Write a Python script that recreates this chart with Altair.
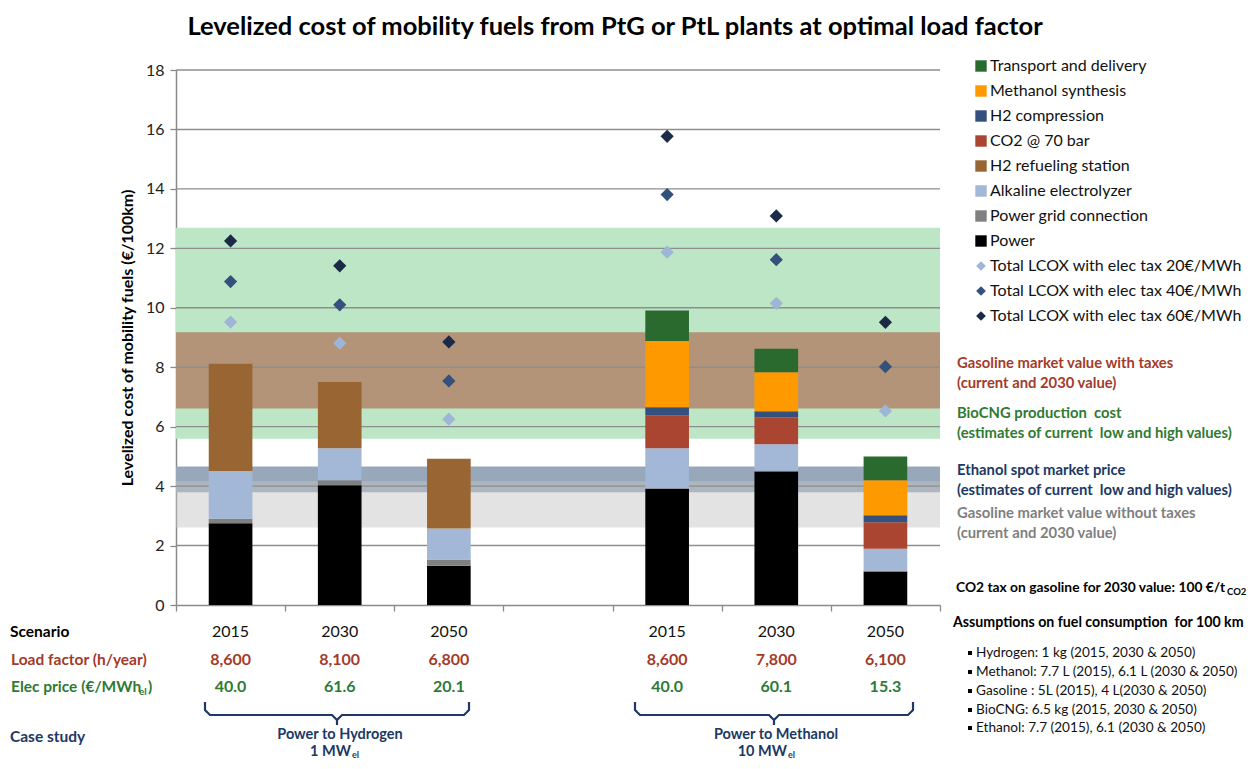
import altair as alt
import pandas as pd

# ---------------- data ----------------
slots = ["H2 2015", "H2 2030", "H2 2050", "gap", "MeOH 2015", "MeOH 2030", "MeOH 2050"]
bar_slots = ["H2 2015", "H2 2030", "H2 2050", "MeOH 2015", "MeOH 2030", "MeOH 2050"]
years = ["2015", "2030", "2050", "2015", "2030", "2050"]
load_factor = ["8,600", "8,100", "6,800", "8,600", "7,800", "6,100"]
elec_price = ["40.0", "61.6", "20.1", "40.0", "60.1", "15.3"]

# stack order bottom -> top
components = ["Power", "Power grid connection", "Alkaline electrolyzer", "H2 refueling station",
              "CO2 @ 70 bar", "H2 compression", "Methanol synthesis", "Transport and delivery"]
comp_colors = ["#000000", "#808080", "#a3b7d6", "#996633", "#aa4531", "#34517d", "#ff9900", "#2a6a2f"]

power = [2.75, 4.03, 1.32, 3.90, 4.49, 1.13]
grid_conn = [0.15, 0.17, 0.21, 0.03, 0.03, 0.03]
electrolyzer = [1.61, 1.07, 1.04, 1.34, 0.89, 0.73]
refueling = [3.61, 2.23, 2.35, 0, 0, 0]
co2 = [0, 0, 0, 1.11, 0.90, 0.89]
h2_compression = [0, 0, 0, 0.27, 0.21, 0.24]
methanol = [0, 0, 0, 2.23, 1.31, 1.18]
transport = [0, 0, 0, 1.03, 0.79, 0.80]
segments = [power, grid_conn, electrolyzer, refueling, co2, h2_compression, methanol, transport]

lcox_series = ["Total LCOX with elec tax 20€/MWh", "Total LCOX with elec tax 40€/MWh",
               "Total LCOX with elec tax 60€/MWh"]
lcox_colors = ["#9fb5d6", "#34517d", "#1b2a47"]
lcox_20 = [9.52, 8.81, 6.25, 11.87, 10.15, 6.53]
lcox_40 = [10.88, 10.10, 7.54, 13.81, 11.62, 8.02]
lcox_60 = [12.25, 11.41, 8.85, 15.77, 13.09, 9.51]

band_names = ["BioCNG production cost", "Gasoline market value with taxes",
              "Ethanol spot market price", "Gasoline market value without taxes"]
band_low = [5.59, 6.61, 3.79, 2.61]
band_high = [12.69, 9.18, 4.66, 4.16]
band_colors = ["#bde6c6", "#b39478", "#98a8bb", "#c4c4c4"]
band_opacity = [1.0, 1.0, 1.0, 0.48]

y_ticks = [0, 2, 4, 6, 8, 10, 12, 14, 16, 18]

# ---------------- layout ----------------
W, H = 764, 535
FONT = "Lato"
RED, GREEN, NAVY, GRAY = "#a33b2a", "#2f7a33", "#203864", "#7f7f7f"
AX = "#8a8a8a"
NB = "\u00a0"

xscale = alt.Scale(domain=slots, paddingInner=0, paddingOuter=0)
yscale = alt.Scale(domain=[0, 18], nice=False)
yaxis = alt.Axis(values=y_ticks, grid=False, title=None, labelFontSize=16,
                 labelFont=FONT, labelColor="#222222", tickColor=AX, tickSize=6,
                 tickWidth=1.3, domainColor=AX, domainWidth=1.5, labelPadding=6)
xaxis = alt.Axis(labels=False, title=None, tickBand="extent", tickSize=6,
                 tickColor=AX, domainColor=AX, domainWidth=1.5, tickWidth=1.3)

# ---------------- tables ----------------
bar_rows = []
for ci, (comp, vals) in enumerate(zip(components, segments)):
    for s, v in zip(bar_slots, vals):
        bar_rows.append({"slot": s, "component": comp, "value": v, "order": ci})
bars_df = pd.DataFrame(bar_rows)

dia_rows = []
for name, vals in zip(lcox_series, [lcox_20, lcox_40, lcox_60]):
    for s, v in zip(bar_slots, vals):
        dia_rows.append({"slot": s, "series": name, "value": v})
dia_df = pd.DataFrame(dia_rows)

bands_df = pd.DataFrame({"name": band_names, "low": band_low, "high": band_high,
                         "color": band_colors, "op": band_opacity})
grid_df = pd.DataFrame({"y": y_ticks[1:]})

# ---------------- layers ----------------
bands = alt.Chart(bands_df).mark_rect().encode(
    x=alt.value(0), x2=alt.value(W),
    y=alt.Y("low:Q", scale=yscale, axis=yaxis), y2="high:Q",
    color=alt.Color("color:N", scale=None),
    opacity=alt.Opacity("op:Q", scale=None),
)

grid = alt.Chart(grid_df).mark_rule(color="#8e8e8e", strokeWidth=1.4).encode(
    x=alt.value(0), x2=alt.value(W),
    y=alt.Y("y:Q", scale=yscale, axis=yaxis),
)

bars = alt.Chart(bars_df).mark_bar(width=alt.RelativeBandSize(0.4)).encode(
    x=alt.X("slot:N", scale=xscale, axis=xaxis),
    y=alt.Y("value:Q", stack="zero", scale=yscale, axis=yaxis),
    color=alt.Color("component:N", scale=alt.Scale(domain=components, range=comp_colors), legend=None),
    order=alt.Order("order:Q"),
)

diamonds = alt.Chart(dia_df).mark_point(shape="diamond", filled=True, size=175, opacity=1).encode(
    x=alt.X("slot:N", scale=xscale, axis=xaxis),
    y=alt.Y("value:Q", scale=yscale, axis=yaxis),
    color=alt.Color("series:N", scale=alt.Scale(domain=lcox_series, range=lcox_colors), legend=None),
)


def texts(rows, **kw):
    df = pd.DataFrame(rows, columns=["px", "py", "t"])
    params = dict(font=FONT, align="left", baseline="middle")
    params.update(kw)
    return alt.Chart(df).mark_text(**params).encode(
        x=alt.X("px:Q", scale=None), y=alt.Y("py:Q", scale=None), text="t:N")


# title and axis title
title = texts([(439, -35, "Levelized cost of mobility fuels from PtG or PtL plants at optimal load factor")],
              fontSize=25.5, fontWeight="bold", align="center", baseline="alphabetic", color="#000000")
ytitle = texts([(-48, 268, "Levelized cost of mobility fuels (€/100km)")],
               fontSize=16, fontWeight="bold", align="center", angle=270, color="#000000")

# legend
leg_items = list(reversed(components))
leg_sq_df = pd.DataFrame({"px": 805, "py": [-4 + 25 * i for i in range(8)],
                          "c": list(reversed(comp_colors))})
leg_sq = alt.Chart(leg_sq_df).mark_point(shape="square", filled=True, size=130, opacity=1).encode(
    x=alt.X("px:Q", scale=None), y=alt.Y("py:Q", scale=None), color=alt.Color("c:N", scale=None))
leg_di_df = pd.DataFrame({"px": 805, "py": [-4 + 25 * i for i in range(8, 11)], "c": lcox_colors})
leg_di = alt.Chart(leg_di_df).mark_point(shape="diamond", filled=True, size=95, opacity=1).encode(
    x=alt.X("px:Q", scale=None), y=alt.Y("py:Q", scale=None), color=alt.Color("c:N", scale=None))
leg_txt = texts([(814, -4 + 25 * i, t) for i, t in enumerate(leg_items + lcox_series)],
                fontSize=16, color="#111111")

# right annotations
AF = 14.8
ann = [
    texts([(781, 294, "Gasoline market value with taxes"), (781, 314, "(current and 2030 value)")],
          fontSize=AF, fontWeight="bold", color=RED),
    texts([(781, 344, "BioCNG production" + NB + " cost"),
           (781, 364, "(estimates of current" + NB + " low and high values)")],
          fontSize=AF, fontWeight="bold", color=GREEN),
    texts([(781, 401, "Ethanol spot market price"),
           (781, 421, "(estimates of current" + NB + " low and high values)")],
          fontSize=AF, fontWeight="bold", color=NAVY),
    texts([(781, 444, "Gasoline market value without taxes"), (781, 464, "(current and 2030 value)")],
          fontSize=AF, fontWeight="bold", color=GRAY),
    texts([(780, 518, "CO2 tax on gasoline for 2030 value: 100 €/t")],
          fontSize=13.8, fontWeight="bold", color="#000000"),
    texts([(1051, 522, "CO2")], fontSize=9.5, fontWeight="bold", color="#000000"),
    texts([(777, 553, "Assumptions on fuel consumption" + NB + " for 100 km")],
          fontSize=14.2, fontWeight="bold", color="#000000"),
]
bullet_lines = ["Hydrogen: 1 kg (2015, 2030 & 2050)", "Methanol: 7.7 L (2015), 6.1 L (2030 & 2050)",
                "Gasoline : 5L (2015), 4 L(2030 & 2050)", "BioCNG: 6.5 kg (2015, 2030 & 2050)",
                "Ethanol: 7.7 (2015), 6.1 (2030 & 2050)"]
bullet_y = [583, 602, 621, 640, 658]
bul_df = pd.DataFrame({"px": 794, "py": bullet_y})
bul_sq = alt.Chart(bul_df).mark_point(shape="square", filled=True, size=16, color="#000000", opacity=1).encode(
    x=alt.X("px:Q", scale=None), y=alt.Y("py:Q", scale=None))
bul_txt = texts([(800, y, t) for y, t in zip(bullet_y, bullet_lines)], fontSize=13.6, color="#111111")

# bottom table
TF = 15.5
CF = 14.5
row_labels = [
    texts([(-166, 562, "Scenario")], fontSize=TF, fontWeight="bold", color="#000000"),
    texts([(-165, 590, "Load factor (h/year)")], fontSize=TF, fontWeight="bold", color=RED),
    texts([(-165, 617, "Elec price (€/MWh")], fontSize=TF, fontWeight="bold", color=GREEN),
    texts([(-37, 622, "el")], fontSize=10, fontWeight="bold", color=GREEN),
    texts([(-28, 617, ")")], fontSize=TF, fontWeight="bold", color=GREEN),
    texts([(-166, 667, "Case study")], fontSize=TF, fontWeight="bold", color=NAVY),
    texts([(164, 665, "Power to Hydrogen"), (600, 665, "Power to Methanol")],
          fontSize=CF, fontWeight="bold", color=NAVY, align="center"),
    texts([(175, 682, "1 MW"), (611, 682, "10 MW")],
          fontSize=CF, fontWeight="bold", color=NAVY, align="right"),
    texts([(176, 685, "el"), (612, 685, "el")], fontSize=9, fontWeight="bold", color=NAVY),
]

tbl_df = pd.DataFrame({"slot": bar_slots, "year": years, "lf": load_factor, "ep": elec_price})
tbl_year = alt.Chart(tbl_df).mark_text(font=FONT, fontSize=16, color="#111111", baseline="middle").encode(
    x=alt.X("slot:N", scale=xscale, axis=xaxis), y=alt.value(562), text="year:N")
tbl_lf = alt.Chart(tbl_df).mark_text(font=FONT, fontSize=16, fontWeight="bold", color=RED,
                                      baseline="middle").encode(
    x=alt.X("slot:N", scale=xscale, axis=xaxis), y=alt.value(590), text="lf:N")
tbl_ep = alt.Chart(tbl_df).mark_text(font=FONT, fontSize=16, fontWeight="bold", color=GREEN,
                                      baseline="middle").encode(
    x=alt.X("slot:N", scale=xscale, axis=xaxis), y=alt.value(617), text="ep:N")

# braces
brace_rows = []
for b, (L, C, R) in enumerate([(29, 161, 293), (459, 598, 737)]):
    pts = [(L, 632), (L, 640), (L + 5, 645), (C - 5, 645), (C, 650), (C, 655), (C, 650),
           (C + 5, 645), (R - 5, 645), (R, 640), (R, 632)]
    for i, (px, py) in enumerate(pts):
        brace_rows.append({"b": b, "i": i, "px": px, "py": py})
braces = alt.Chart(pd.DataFrame(brace_rows)).mark_line(color=NAVY, strokeWidth=2.2).encode(
    x=alt.X("px:Q", scale=None), y=alt.Y("py:Q", scale=None), detail="b:N", order="i:Q")

chart = alt.layer(
    bands, grid, bars, diamonds, title, ytitle, leg_sq, leg_di, leg_txt, *ann, bul_sq, bul_txt,
    *row_labels, tbl_year, tbl_lf, tbl_ep, braces
).resolve_scale(color="independent").properties(
    width=W, height=H,
    padding={"left": 168, "top": 62, "right": 309, "bottom": 156},
    autosize=alt.AutoSizeParams(type="none"),
).configure_view(stroke=None).configure_axis(labelFont=FONT)

chart.save("out.html", embed_options={"renderer": "svg", "actions": False})
